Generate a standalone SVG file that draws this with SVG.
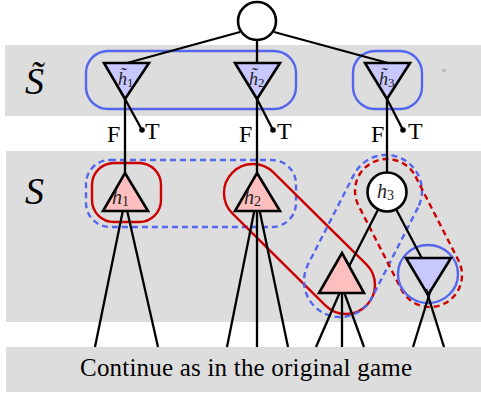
<svg xmlns="http://www.w3.org/2000/svg" width="481" height="396" viewBox="0 0 481 396">
<style>
.band{fill:#dddddd}
.edge{stroke:#000;stroke-width:2.3;fill:none}
.tri-b{fill:#c8c8ff;stroke:#000;stroke-width:2.6;stroke-linejoin:miter}
.tri-r{fill:#ffbfbf;stroke:#000;stroke-width:2.6;stroke-linejoin:miter}
.circ{fill:#fff;stroke:#000;stroke-width:2.6}
.blue{fill:none;stroke:#5566ee;stroke-width:2.4}
.red{fill:none;stroke:#cc0000;stroke-width:2.4}
.dash{stroke-dasharray:6,4}
.lbl{font-family:"Liberation Serif","Times New Roman",serif;font-size:24px;fill:#000}
.big{font-family:"Liberation Serif","Times New Roman",serif;font-style:italic;font-size:38px;fill:#000}
.h{font-family:"Liberation Serif","Times New Roman",serif;font-style:italic;font-size:20px;fill:#222}
.ht{font-size:18px}
.sub{font-style:normal;font-size:14px}
.subt{font-style:normal;font-size:13px}
</style>
<g id="bands">
<rect class="band" x="5" y="45" width="476" height="71"/>
<rect class="band" x="6" y="151" width="475" height="171"/>
<rect class="band" x="6" y="347" width="475" height="45"/>
<rect x="442" y="69" width="4" height="3" fill="#bbbbbb"/>
</g>
<g id="labels">
<text class="big" x="25" y="94">S̃</text>
<text class="big" x="25" y="204">S</text>
<text class="lbl" x="80" y="376" style="font-size:25px" textLength="332" lengthAdjust="spacing">Continue as in the original game</text>
</g>
<g id="enclosures">
<rect class="blue" x="86" y="51" width="210" height="58" rx="22"/>
<rect class="blue" x="353" y="51" width="69" height="58" rx="22"/>
<rect class="blue dash" x="86" y="160" width="210" height="67" rx="24"/>
<rect class="red" x="92" y="163" width="69" height="59" rx="22"/>
<rect class="red" x="-94.4" y="-29" width="188.8" height="58" rx="29" transform="translate(299.5,239) rotate(44.69)"/>
<rect class="blue dash" x="-86.55" y="-36" width="173.1" height="72" rx="36" transform="translate(363,236) rotate(117.07)"/>
<rect class="red dash" x="-79.2" y="-32" width="158.4" height="64" rx="32" transform="translate(408.5,233) rotate(62.9)"/>
<ellipse class="blue" cx="428" cy="274" rx="30" ry="29"/>
</g>
<g id="connectors">
<line class="edge" x1="240" y1="32" x2="127" y2="63"/>
<line class="edge" x1="257" y1="40" x2="257" y2="63"/>
<line class="edge" x1="274" y1="32" x2="388" y2="63"/>
<line class="edge" x1="125" y1="99" x2="125" y2="173"/>
<line class="edge" x1="125" y1="99" x2="142" y2="130"/>
<line class="edge" x1="257" y1="99" x2="257" y2="173"/>
<line class="edge" x1="257" y1="99" x2="273" y2="130"/>
<line class="edge" x1="387" y1="99" x2="387" y2="172"/>
<line class="edge" x1="387" y1="99" x2="403" y2="130"/>
<line class="edge" x1="122.8" y1="211" x2="95" y2="347"/>
<line class="edge" x1="127.2" y1="211" x2="158" y2="347"/>
<line class="edge" x1="254.3" y1="211" x2="227" y2="347"/>
<line class="edge" x1="257" y1="211" x2="257" y2="347"/>
<line class="edge" x1="259.7" y1="211" x2="288" y2="347"/>
<line class="edge" x1="339.6" y1="293" x2="316" y2="347"/>
<line class="edge" x1="342" y1="293" x2="342" y2="347"/>
<line class="edge" x1="344.4" y1="293" x2="364" y2="347"/>
<line class="edge" x1="378.1" y1="209.4" x2="349.2" y2="266"/>
<line class="edge" x1="396.1" y1="209.3" x2="421.7" y2="258"/>
</g>
<g id="root"><circle class="circ" cx="257" cy="21" r="19"/></g>
<g id="ht1"><path class="tri-b" d="M104,63 L149,63 L125,99 Z"/><text class="h ht" x="118" y="85">h̃<tspan class="subt" dy="2">1</tspan></text></g>
<g id="ht2"><path class="tri-b" d="M235,63 L280,63 L257,99 Z"/><text class="h ht" x="249" y="85">h̃<tspan class="subt" dy="2">2</tspan></text></g>
<g id="ht3"><path class="tri-b" d="M365,63 L410,63 L387,99 Z"/><text class="h ht" x="379" y="85">h̃<tspan class="subt" dy="2">3</tspan></text></g>
<g id="ft-labels">
<circle cx="142" cy="130" r="2.8"/><circle cx="273" cy="130" r="2.8"/><circle cx="403" cy="130" r="2.8"/>
<text class="lbl" x="107" y="142">F</text><text class="lbl" x="145" y="139">T</text>
<text class="lbl" x="239" y="142">F</text><text class="lbl" x="277" y="139">T</text>
<text class="lbl" x="371" y="142">F</text><text class="lbl" x="408" y="139">T</text>
</g>
<g id="h1"><path class="tri-r" d="M125,173 L148,211 L103,211 Z"/><text class="h" x="112" y="204">h<tspan class="sub" dy="2">1</tspan></text></g>
<g id="h2"><path class="tri-r" d="M257,173 L280,211 L235,211 Z"/><text class="h" x="244" y="204">h<tspan class="sub" dy="2">2</tspan></text></g>
<g id="h3"><circle class="circ" cx="387" cy="192" r="19.5"/><text class="h" x="377" y="198">h<tspan class="sub" dy="2">3</tspan></text></g>
<g id="low-red"><path class="tri-r" d="M342,253 L364,293 L319,293 Z"/></g>
<g id="low-blue"><path class="tri-b" d="M406,258 L451,258 L428,295 Z"/>
<line class="edge" x1="431" y1="289" x2="413" y2="347"/>
<line class="edge" x1="426" y1="289" x2="444" y2="347"/>
</g>
</svg>
